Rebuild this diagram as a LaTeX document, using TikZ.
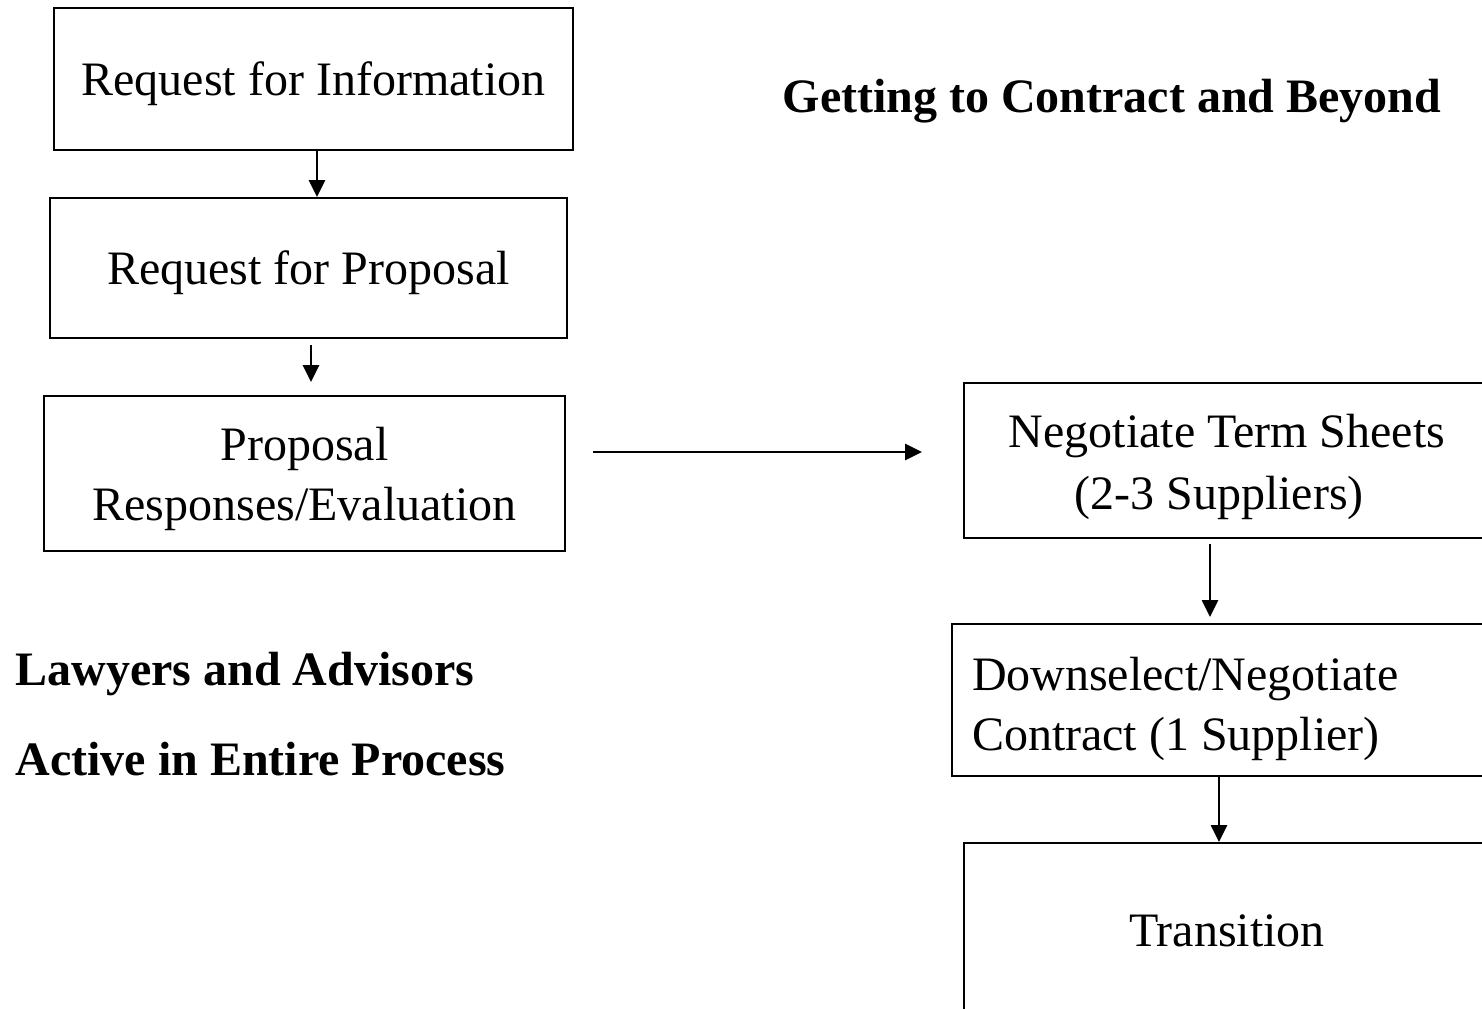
\documentclass[tikz,border=0pt]{standalone}
\usepackage{fontspec}
\setmainfont{Liberation Serif}
\usepackage{tikz}
\usetikzlibrary{arrows.meta}
\newcommand{\padtop}[1]{\rule{0pt}{#1}}
\tikzset{
    step-box/.style = {draw=black, fill=white, line width=1pt, rectangle, inner sep=5pt, font=\fontsize{24}{30}\selectfont},
    note-text/.style = {inner sep=0pt, font=\fontsize{24}{30}\selectfont\bfseries},
    flow-arrow/.style = {line width=1.35pt, -{Triangle[length=8.5pt,width=8pt]}},
}

\begin{document}
\begin{tikzpicture}[x=0.5pt, y=-0.5pt]
\useasboundingbox (0,0) rectangle (1482,1008);
\node [step-box, minimum width=259.5pt, minimum height=71pt] (rfi) at (313.5,79) {\padtop{22pt}Request for Information};
\node [step-box, minimum width=258.5pt, minimum height=70pt] (rfp) at (308.5,268) {\padtop{22pt}Request for Proposal};
\node [step-box, minimum width=260.5pt, minimum height=77.5pt, align=center] (resp) at (304.5,473.5) {\padtop{22pt}Proposal\\Responses/Evaluation};
\node [step-box, minimum width=263pt, minimum height=77.5pt, align=center, font=\fontsize{24}{31}\selectfont] (terms) at (1227,460.5) {\padtop{23.5pt}Negotiate Term Sheets\\(2-3 Suppliers)\hspace*{8pt}};
\node [step-box, minimum width=269pt, minimum height=76pt, inner xsep=10pt, text width=249pt, align=flush left] (down) at (1221,700) {\padtop{26pt}Downselect/Negotiate\\Contract (1 Supplier)};
\node [step-box, minimum width=263pt, minimum height=87.5pt] (trans) at (1227,930.5) {Transition};
\node [note-text, anchor=base] (title) at (1112,112) {Getting to Contract and Beyond};
\node [note-text, anchor=base west] (lawyers) at (15,685) {Lawyers and Advisors};
\node [note-text, anchor=base west] (active) at (15,775) {Active in Entire Process};
\draw [flow-arrow] ([xshift=1.75pt]rfi.south) -- ([xshift=1.75pt]rfi.south |- rfp.north);
\draw [flow-arrow, shorten <=3pt, shorten >=6.5pt] ([xshift=1.25pt]rfp.south) -- ([xshift=1.25pt]rfp.south |- resp.north);
\draw [flow-arrow, shorten <=13.5pt, shorten >=20.5pt] ([yshift=10.75pt]resp.east) -- ([yshift=10.75pt]resp.east -| terms.west);
\draw [flow-arrow, shorten <=2.5pt, shorten >=3pt] ([xshift=-8.5pt]terms.south) -- ([xshift=-8.5pt]terms.south |- down.north);
\draw [flow-arrow] ([xshift=-1pt]down.south) -- ([xshift=-1pt]down.south |- trans.north);
\end{tikzpicture}
\end{document}
